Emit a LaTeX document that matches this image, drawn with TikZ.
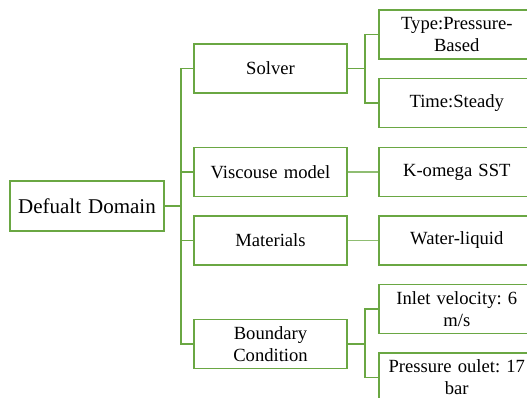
\documentclass[tikz,border=0pt]{standalone}
\usepackage{fontspec}
\setmainfont{Liberation Serif}
\usepackage{tikz}
\usetikzlibrary{positioning}
\definecolor{leaf}{HTML}{6AA743}
\frenchspacing

\tikzset{
  box/.style={draw=leaf,line width=1.6pt,fill=white,align=center,
    text width=142pt,minimum height=49pt,inner sep=0pt,
    font=\fontsize{18.6}{22}\selectfont},
  midbox/.style={box,minimum width=153pt},
  leafbox/.style={box,minimum width=156pt},
  link/.style={leaf,line width=1.6pt},
}

\begin{document}
\begin{tikzpicture}[x=1pt,y=-1pt]
  \useasboundingbox (0,0) rectangle (527,398);
  \clip (0,0) rectangle (527,398);
  % root and first level
  \node[box,minimum width=154pt,minimum height=50pt,text width=150pt,
        font=\fontsize{21}{24}\selectfont] (root) at (87,206) {Defualt Domain};
  \node[midbox] (solver) at (270.5,68.5) {Solver};
  \node[midbox] (visc) at (270.5,172) {Viscouse model};
  \node[midbox] (mat) at (270.5,240.5) {Materials};
  \node[midbox] (bc) at (270.5,344) {Boundary\\Condition};
  % second level
  \node[leafbox,anchor=west] (type) at (378,34.5) {Type:Pressure-\\Based};
  \node[leafbox,anchor=west] (time) at (378,103) {Time:Steady};
  \node[leafbox,anchor=west] (komega) at (378,172) {K-omega SST};
  \node[leafbox,anchor=west] (water) at (378,240.5) {Water-liquid};
  \node[leafbox,anchor=west] (inlet) at (378,309) {Inlet velocity: 6\\m/s};
  \node[leafbox,anchor=west] (outlet) at (378,377.5) {Pressure oulet: 17\\bar};
  % trunk
  \coordinate (trunk) at (181,206);
  \draw[link,line width=2.6pt] (root.east) -- (trunk);
  \foreach \n in {solver,visc,mat,bc}
    \draw[link] (trunk) |- (\n.west);
  % branches
  \coordinate (sfork) at (365,68.5);
  \coordinate (bfork) at (365,344);
  \draw[link] (solver.east) -- (sfork);
  \draw[link] (sfork) |- (type.west);
  \draw[link] (sfork) |- (time.west);
  \draw[link,leaf!75] (visc.east) -- (komega.west);
  \draw[link,leaf!75] (mat.east) -- (water.west);
  \draw[link] (bc.east) -- (bfork);
  \draw[link] (bfork) |- (inlet.west);
  \draw[link] (bfork) |- (outlet.west);
\end{tikzpicture}
\end{document}
